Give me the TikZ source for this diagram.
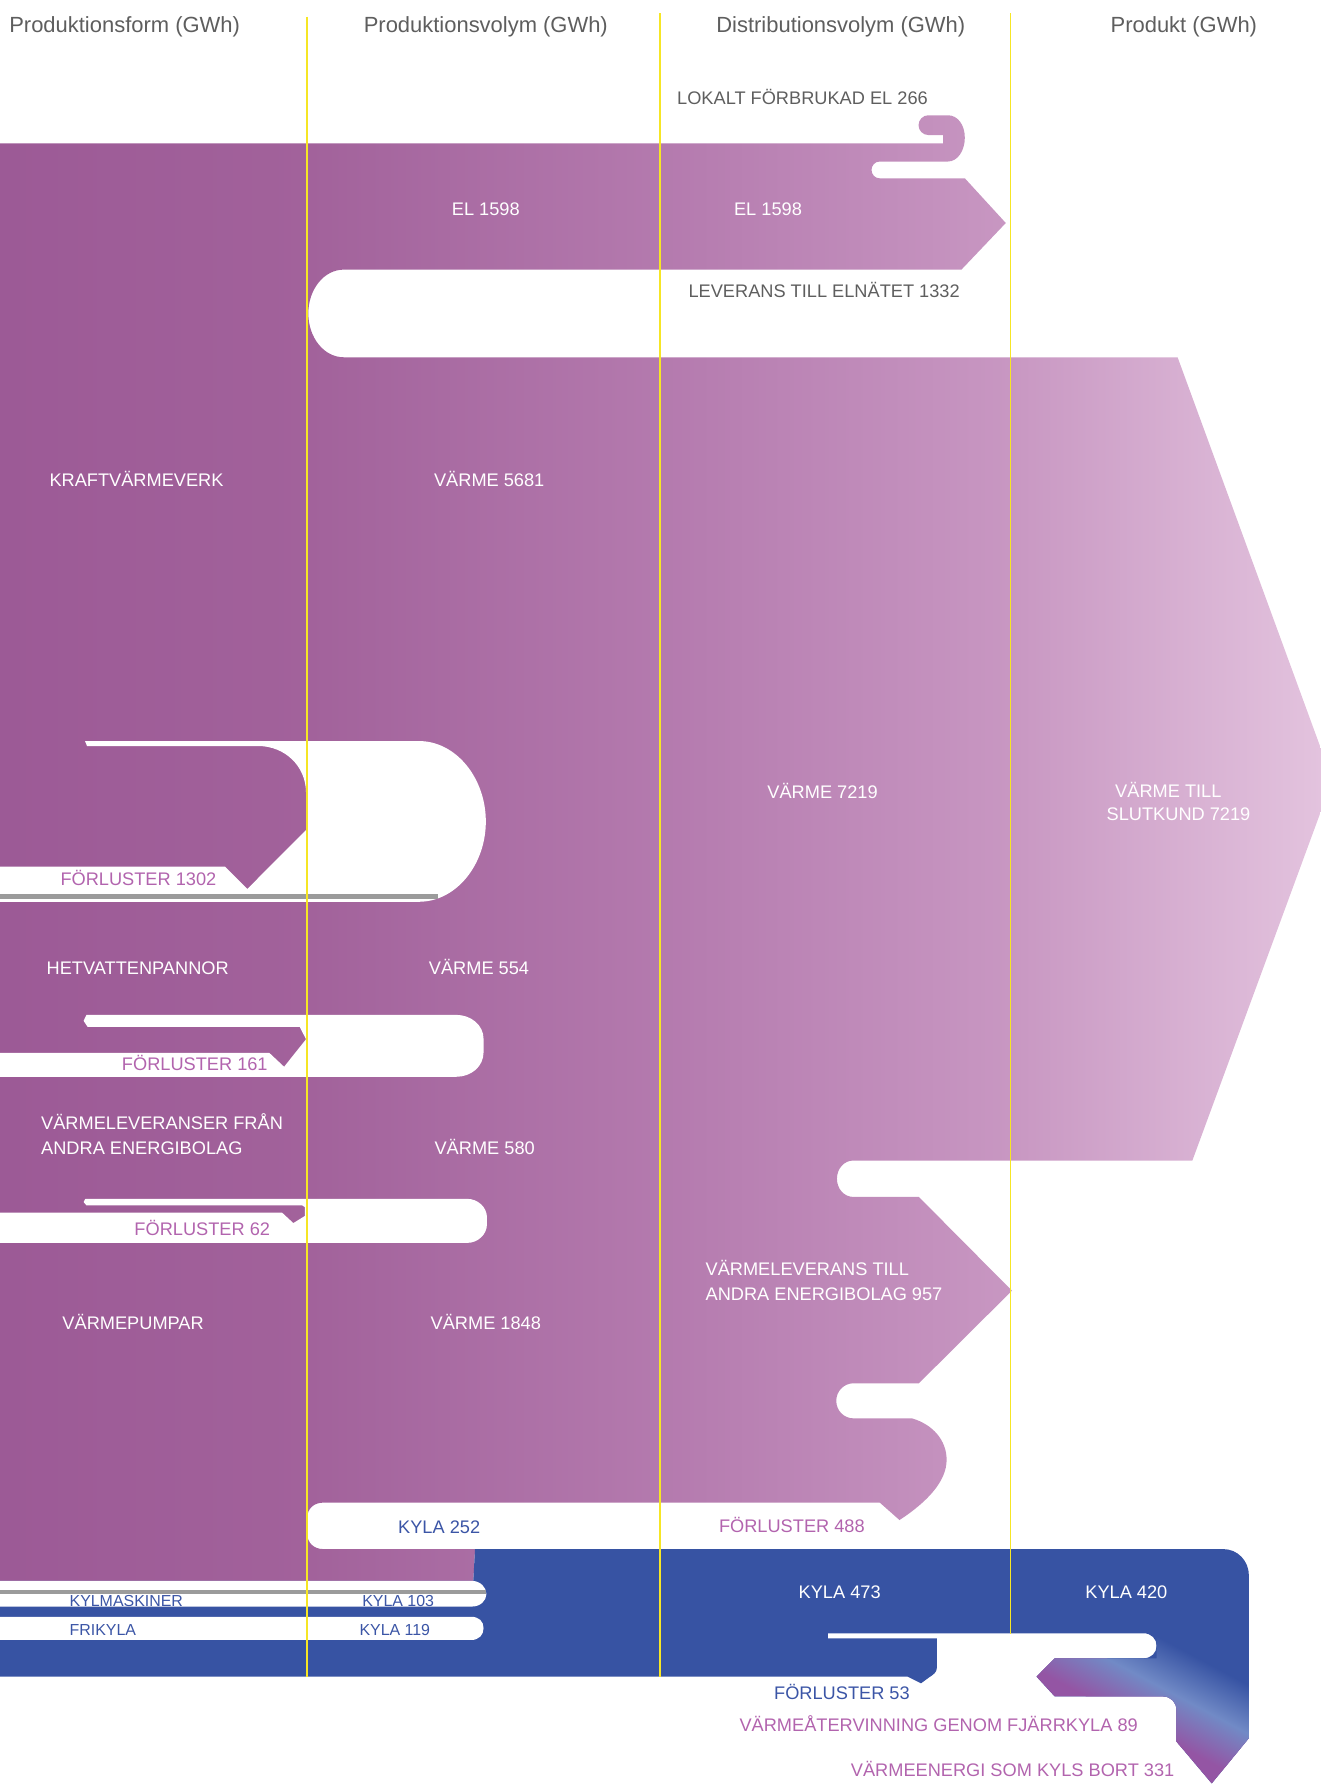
\documentclass[tikz,border=0pt]{standalone}
\usepackage{fontspec}
\setmainfont{Liberation Sans}
\definecolor{heatA}{HTML}{9C5A96}
\definecolor{heatB}{HTML}{A2629B}
\definecolor{heatC}{HTML}{B47AAE}
\definecolor{heatD}{HTML}{C897C2}
\definecolor{heatE}{HTML}{E3C3DE}
\definecolor{coolblue}{HTML}{3753A3}
\definecolor{taillight}{HTML}{718AC6}
\definecolor{tailpurple}{HTML}{9455A4}
\definecolor{guide}{HTML}{F6E625}
\definecolor{headgray}{HTML}{5E5E5E}
\definecolor{lossviolet}{HTML}{B264AE}
\definecolor{lossgray}{HTML}{9B9B9B}
\definecolor{coolink}{HTML}{3B55A6}
% heat flows fade from dark violet (left) to pale pink (right)
\pgfdeclarehorizontalshading{heatshade}{100bp}{color(0bp)=(heatA); color(25bp)=(heatA); color(36.71bp)=(heatB); color(50.11bp)=(heatC); color(63.24bp)=(heatD); color(75bp)=(heatE); color(100bp)=(heatE)}
\begin{document}
\begin{tikzpicture}[x=1pt,y=-1pt,
  lbl/.style={font=\fontsize{16}{22}\selectfont, inner sep=0pt, text=white},
  smlbl/.style={font=\fontsize{14}{17}\selectfont, inner sep=0pt, text=coolink},
  hdr/.style={font=\fontsize{19.3}{23}\selectfont, inner sep=0pt, text=headgray},
  gap/.style={fill=white},
  yline/.style={draw=guide, line width=1.4pt}]
\useasboundingbox (0,0) rectangle (1161,1568);

% ---------- heat / electricity flows ----------
\begin{scope}
\clip (0,126) -- (829,126) -- (829,118.7) -- (816,118.7)
  .. controls (811.2,118.7) and (807.3,114.8) .. (807.3,110)
  .. controls (807.3,105.2) and (811.2,101.3) .. (816,101.3)
  -- (833,101.3) .. controls (842,101.3) and (848,110) .. (848,121)
  .. controls (848,132) and (842,142) .. (833,142)
  -- (773,142) .. controls (769,142) and (766,145.5) .. (766,149.3)
  .. controls (766,153.3) and (769,156.7) .. (773,156.7)
  -- (848,156.7) -- (884,196) -- (845,237)
  -- (302,237) .. controls (285,237) and (271,254) .. (271,275.5)
  .. controls (271,297) and (285,314) .. (302,314)
  -- (1035,314) -- (1161,658) -- (1161,713) -- (1048,1020)
  -- (750,1020) .. controls (742,1020) and (735.6,1027) .. (735.6,1036)
  .. controls (735.6,1045) and (742,1052) .. (750,1052)
  -- (807.6,1052) -- (889.4,1134.4) -- (807.6,1215.8)
  -- (750,1215.8) .. controls (742,1215.8) and (735,1222.5) .. (735,1231.2)
  .. controls (735,1240) and (742,1246.6) .. (750,1246.6)
  -- (801.5,1246.6) .. controls (820,1252) and (832,1266) .. (832,1283)
  .. controls (832,1302) and (815,1320) .. (790.6,1336)
  -- (773.3,1320.7)
  -- (284,1320.7) .. controls (276,1320.7) and (270,1326) .. (270,1334)
  -- (270,1348) .. controls (270,1356) and (276,1361.5) .. (284,1361.5)
  -- (417.5,1361.5) -- (416,1389.5) -- (0,1389.5) -- cycle;
\shade[shading=heatshade] (0,0) rectangle (1161,1568);
\end{scope}

% loss loops cut out of the production column
\fill[gap] (0,761.7) -- (197.8,761.7) -- (217.4,781.3) -- (269,729.5) -- (269,697)
  .. controls (269,673) and (250,655.7) .. (227,655.7) -- (76.5,655.7) -- (74.7,651.3)
  -- (368,651.3) .. controls (401,651.3) and (427,684) .. (427,722)
  .. controls (427,760) and (401,792.6) .. (368,792.6) -- (0,792.6) -- cycle;
\fill[lossgray] (0,786) rectangle (385,790.2);

\fill[gap] (0,925.4) -- (236.7,925.4) -- (249.7,937.6) -- (269,913.4) -- (263.4,902.5)
  -- (77,902.5) -- (73.5,897.2) -- (76,892) -- (401,892)
  .. controls (414,892) and (425,901) .. (425,913) -- (425,925)
  .. controls (425,937.5) and (414,946.4) .. (401,946.4) -- (0,946.4) -- cycle;

\fill[gap] (0,1065.7) -- (247.8,1065.7) -- (257.8,1075) -- (268,1068.7) -- (268,1061)
  -- (265.6,1059.4) -- (76,1059.4) -- (73.5,1056.5) -- (75,1053.7) -- (410.6,1053.7)
  .. controls (420,1053.7) and (428,1061) .. (428,1070) -- (428,1076)
  .. controls (428,1085) and (420,1092.4) .. (410.6,1092.4) -- (0,1092.4) -- cycle;

% ---------- cooling flow ----------
\def\coolpath{(0,1389.5) -- (416,1389.5) -- (417.5,1361.5) -- (1075,1361.5)
  .. controls (1088,1361.5) and (1097.7,1372) .. (1097.7,1385) -- (1097.7,1527.6)
  -- (1065,1567.5) -- (1034,1530.7) -- (1034,1503)
  .. controls (1034,1496) and (1029,1491) .. (1022,1491) -- (927,1491)
  -- (911,1473.6) -- (927,1457.5) -- (1005,1457.5)
  .. controls (1012,1457.5) and (1016.6,1452.5) .. (1016.6,1446.5)
  .. controls (1016.6,1440.5) and (1012,1435.5) .. (1005,1435.5)
  -- (727.7,1435.5) -- (727.7,1440) -- (823.4,1440) -- (823.4,1466)
  .. controls (823.4,1470) and (820,1472) .. (817,1474) -- (809.5,1479.5)
  -- (797.7,1473.6) -- (0,1473.6) -- cycle}
\fill[coolblue] \coolpath;
% the returning heat-recovery tail blends blue into violet across a light band
\begin{scope}
\clip \coolpath;
\clip (905,1457.5) -- (1016.6,1457.5) -- (1016.6,1425) -- (1110,1425)
  -- (1110,1575) -- (905,1575) -- cycle;
\begin{scope}[transform canvas={rotate around={-28:(1030,1488)}}]
  \fill[coolblue] (830,1288) rectangle (1230,1488);
  \fill[tailpurple] (830,1488) rectangle (1230,1688);
  \shade[top color=coolblue, bottom color=tailpurple, middle color=taillight]
    (830,1450) rectangle (1230,1526);
\end{scope}
\end{scope}

% cooling sources
\fill[gap] (0,1389.5) -- (415,1389.5) .. controls (422,1389.5) and (427.5,1395) .. (427.5,1401)
  .. controls (427.5,1407) and (422,1412) .. (415,1412) -- (0,1412) -- cycle;
\fill[lossgray] (0,1397.5) rectangle (427,1401);
\fill[gap] (0,1421) -- (414,1421) .. controls (421,1421) and (425,1425) .. (425,1431)
  .. controls (425,1437) and (421,1441.4) .. (414,1441.4) -- (0,1441.4) -- cycle;

% ---------- column guides ----------
\draw[yline] (270,14.6) -- (270,1473.6);
\draw[yline] (580,11.7) -- (580,1473.6);
\draw[yline] (888,11.7) -- (888,1436);

% ---------- column headers ----------
\node[hdr, anchor=base west] (h1) at (8,28.5) {Produktionsform (GWh)};
\node[hdr, anchor=base] (h2) at (427,28.5) {Produktionsvolym (GWh)};
\node[hdr, anchor=base] (h3) at (739,28.5) {Distributionsvolym (GWh)};
\node[hdr, anchor=base] (h4) at (1040.5,28.5) {Produkt (GWh)};

% ---------- electricity ----------
\node[lbl, text=headgray, anchor=base west] (lok) at (595,91.7) {LOKALT FÖRBRUKAD EL 266};
\node[lbl, anchor=base] (el1) at (427,189.7) {EL 1598};
\node[lbl, anchor=base] (el2) at (675,189.7) {EL 1598};
\node[lbl, text=headgray, anchor=base west] (lev) at (605,261.7) {LEVERANS TILL ELNÄTET 1332};

% ---------- heat ----------
\node[lbl, anchor=base] (kvv) at (120,427.7) {KRAFTVÄRMEVERK};
\node[lbl, anchor=base] (v5681) at (430,427.7) {VÄRME 5681};
\node[lbl, anchor=base] (v7219) at (723,701.7) {VÄRME 7219};
\node[lbl, anchor=west, align=left, font=\fontsize{16}{20.8}\selectfont] (slut) at (972.5,704.5)
  {\hspace*{7.5pt}VÄRME TILL\\SLUTKUND 7219};
\node[lbl, text=lossviolet, anchor=base west] (f1302) at (53,778.7) {FÖRLUSTER 1302};
\node[lbl, anchor=base] (hvp) at (121,856.7) {HETVATTENPANNOR};
\node[lbl, anchor=base] (v554) at (421,856.7) {VÄRME 554};
\node[lbl, text=lossviolet, anchor=base west] (f161) at (107,940.7) {FÖRLUSTER 161};
\node[lbl, anchor=west, align=left] (andra) at (36,996.8) {VÄRMELEVERANSER FRÅN\\ANDRA ENERGIBOLAG};
\node[lbl, anchor=base] (v580) at (426,1014.7) {VÄRME 580};
\node[lbl, text=lossviolet, anchor=base west] (f62) at (118,1085.7) {FÖRLUSTER 62};
\node[lbl, anchor=west, align=left] (vlev) at (620,1125.2) {VÄRMELEVERANS TILL\\ANDRA ENERGIBOLAG 957};
\node[lbl, anchor=base] (vp) at (117,1168.7) {VÄRMEPUMPAR};
\node[lbl, anchor=base] (v1848) at (427,1168.7) {VÄRME 1848};
\node[lbl, text=lossviolet, anchor=base] (f488) at (696,1346.7) {FÖRLUSTER 488};

% ---------- cooling ----------
\node[lbl, text=coolink, anchor=base] (k252) at (386,1347.7) {KYLA 252};
\node[lbl, anchor=base] (k473) at (738,1404.7) {KYLA 473};
\node[lbl, anchor=base] (k420) at (990,1404.7) {KYLA 420};
\node[smlbl, anchor=base west] (km) at (61,1412.3) {KYLMASKINER};
\node[smlbl, anchor=base] (k103) at (350,1412.3) {KYLA 103};
\node[smlbl, anchor=base west] (fk) at (61,1437.6) {FRIKYLA};
\node[smlbl, anchor=base] (k119) at (347,1437.6) {KYLA 119};
\node[lbl, text=coolink, anchor=base] (f53) at (740,1493.7) {FÖRLUSTER 53};
\node[lbl, text=lossviolet, anchor=base] (atv) at (825,1521.7) {VÄRMEÅTERVINNING GENOM FJÄRRKYLA 89};
\node[lbl, text=lossviolet, anchor=base] (bort) at (890,1561.7) {VÄRMEENERGI SOM KYLS BORT 331};
\end{tikzpicture}
\end{document}
